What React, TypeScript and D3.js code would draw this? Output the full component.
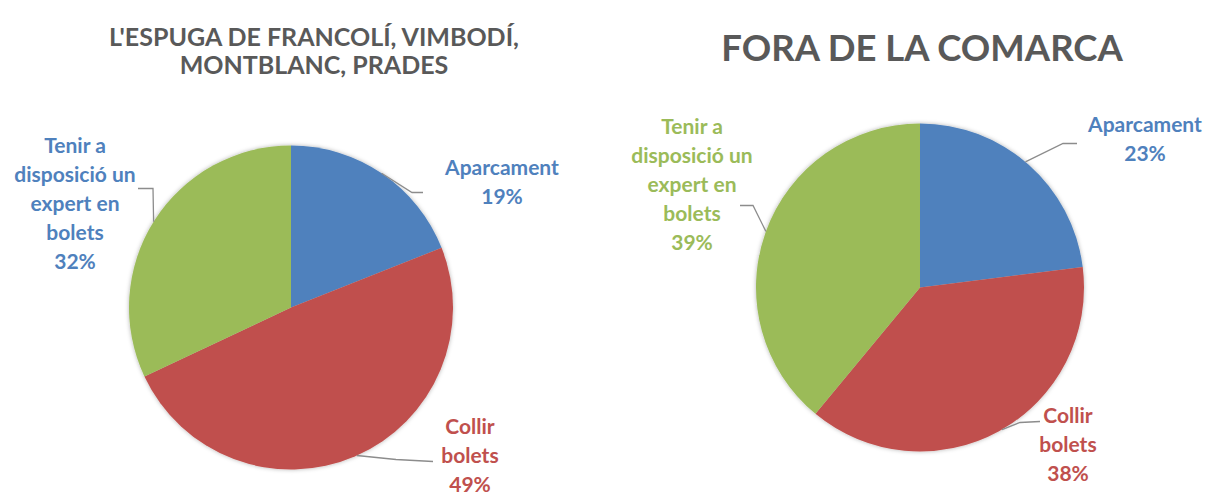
import React from "react"
import * as d3 from "d3"

// categories and values (percent)
const categories = ["Aparcament", "Collir bolets", "Tenir a disposició un expert en bolets"]
const labelLines = [["Aparcament"], ["Collir", "bolets"], ["Tenir a", "disposició un", "expert en", "bolets"]]
const localValues = [19, 49, 32]
const outsideValues = [23, 38, 39]
const leftTitle = ["L'ESPUGA DE FRANCOLÍ, VIMBODÍ,", "MONTBLANC, PRADES"]
const rightTitle = ["FORA DE LA COMARCA"]

const colors = ["#4F81BD", "#C0504D", "#9BBB59"]
// the left chart shows its third label in blue, the right one in green
const leftLabelColors = ["#4F81BD", "#C0504D", "#4F81BD"]
const rightLabelColors = ["#4F81BD", "#C0504D", "#9BBB59"]
const titleColor = "#595959"
const leaderColor = "#8c8c8c"
const labelFont = "Lato, 'Open Sans', sans-serif"

// label layout, relative to the pie centre: text block centre, leader (edge angle, elbow, end)
type LabelLayout = { dx: number; dy: number; edge: number; elbow: [number, number]; end: [number, number] }

const leftLayout: LabelLayout[] = [
	{ dx: 211, dy: -125, edge: 34, elbow: [121, -115], end: [132, -115] },
	{ dx: 179, dy: 148, edge: 156, elbow: [105, 152], end: [142, 154] },
	{ dx: -216, dy: -104, edge: 302, elbow: [-138, -119], end: [-153, -119] },
]
const rightLayout: LabelLayout[] = [
	{ dx: 225, dy: -148, edge: 40, elbow: [143, -144], end: [157, -144] },
	{ dx: 148, dy: 157, edge: 150, elbow: [100, 135], end: [120, 134] },
	{ dx: -228, dy: -103, edge: 290, elbow: [-167, -82], end: [-180, -82] },
]

const Pie = ({ cx, cy, r, values, layout, labelColors, title, titleSize, titleX, titleY }) => {
	const pie = d3.pie<number>().sort(null).value(d => d)
	const arcs = pie(values)
	const arc = d3.arc<d3.PieArcDatum<number>>().innerRadius(0).outerRadius(r)
	const lineHeight = 29
	const fontSize = 21

	return (
		<g>
			{title.map((t, i) => (
				<text
					key={t}
					x={titleX}
					y={titleY + i * 28}
					textAnchor="middle"
					fill={titleColor}
					fontFamily={labelFont}
					fontWeight="bold"
					fontSize={titleSize}
				>
					{t}
				</text>
			))}
			<g transform={`translate(${cx},${cy})`}>
				<g filter="url(#pieShadow)">
					{arcs.map((a, i) => (
						<path key={categories[i]} d={arc(a) as string} fill={colors[i]} />
					))}
				</g>
				{arcs.map((a, i) => {
					const l = layout[i]
					const ang = (l.edge * Math.PI) / 180
					const sx = r * Math.sin(ang)
					const sy = -r * Math.cos(ang)
					const line = d3.line()([[sx, sy], l.elbow, l.end])
					const lines = [...labelLines[i], `${a.data}%`]
					const top = l.dy - ((lines.length - 1) * lineHeight) / 2
					return (
						<g key={categories[i]}>
							<path d={line as string} fill="none" stroke={leaderColor} strokeWidth={1.3} />
							<text
								textAnchor="middle"
								fill={labelColors[i]}
								fontFamily={labelFont}
								fontWeight="bold"
								fontSize={fontSize}
							>
								{lines.map((s, j) => (
									<tspan key={j} x={l.dx} y={top + j * lineHeight} dy="0.35em">
										{s}
									</tspan>
								))}
							</text>
						</g>
					)
				})}
			</g>
		</g>
	)
}

export default function App() {
	return (
		<svg
			width={1212}
			height={492}
			style={{ position: "absolute", left: 0, top: 0, background: "#fff" }}
		>
			<defs>
				<filter id="pieShadow" x="-10%" y="-10%" width="120%" height="120%">
					<feDropShadow dx="0" dy="0" stdDeviation="2" floodColor="#000" floodOpacity="0.3" />
				</filter>
			</defs>
			<Pie cx={291} cy={307.5} r={162} values={localValues} layout={leftLayout} labelColors={leftLabelColors} title={leftTitle} titleSize={25} titleX={314} titleY={46} />
			<Pie cx={920} cy={287.5} r={164} values={outsideValues} layout={rightLayout} labelColors={rightLabelColors} title={rightTitle} titleSize={36.5} titleX={922} titleY={61} />
		</svg>
	)
}
